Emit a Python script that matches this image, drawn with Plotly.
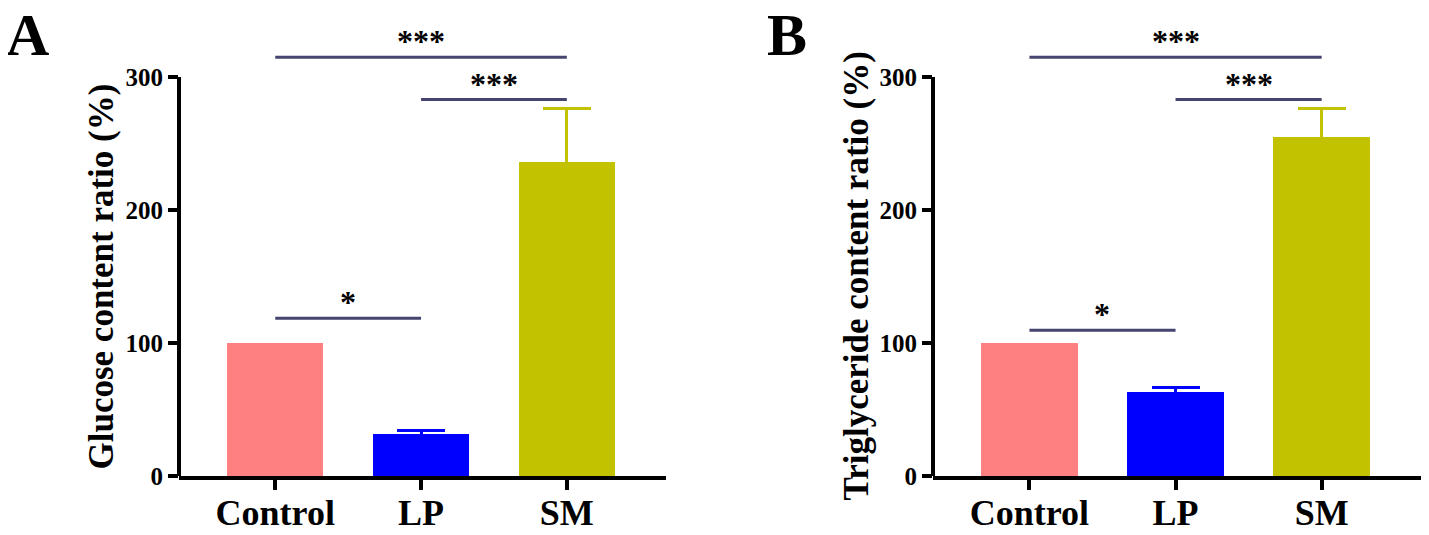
import plotly.graph_objects as go
from plotly.subplots import make_subplots

# Data
groups = ["Control", "LP", "SM"]
colors = ["#FF8080", "#0000FF", "#C2C200"]

glucose = [100, 31.8, 236.3]
glucose_err = [0, 2.3, 40.0]
triglyceride = [100, 63.2, 254.6]
triglyceride_err = [0, 3.5, 21.5]

sig_pairs = [(0, 2), (1, 2), (0, 1)]
sig_labels = ["***", "***", "*"]
glucose_sig_y = [314.8, 283.0, 118.6]
triglyceride_sig_y = [314.8, 283.0, 109.5]

y_ticks = [0, 100, 200, 300]

FONT = "Liberation Serif, Times New Roman, serif"
W, H = 1429, 535
OFF = 8              # page body margin shifts the figure by this many px
PX_PER_UNIT = 1.33
BOTTOM = H - (476 - OFF)

fig = make_subplots(rows=1, cols=2)

panels = [
    dict(vals=glucose, err=glucose_err, sig=glucose_sig_y,
         title="Glucose content ratio (%)", letter="A",
         domain=[(179 - OFF) / W, (666 - OFF) / W],
         title_x=(101 - OFF) / W, letter_x=(4 - OFF) / W),
    dict(vals=triglyceride, err=triglyceride_err, sig=triglyceride_sig_y,
         title="Triglyceride content ratio (%)", letter="B",
         domain=[(933 - OFF) / W, (1421 - OFF) / W],
         title_x=(856 - OFF) / W, letter_x=(765 - OFF) / W),
]

y_top = (H - BOTTOM) / PX_PER_UNIT

for i, p in enumerate(panels):
    col = i + 1
    xs = list(range(len(groups)))
    for j in xs:
        has_err = p["err"][j] > 0
        fig.add_trace(go.Bar(
            x=[j], y=[p["vals"][j]], width=0.66,
            marker=dict(color=colors[j], line=dict(width=0)),
            error_y=dict(type="data", array=[p["err"][j]], visible=has_err,
                         color=colors[j], thickness=3, width=24),
            showlegend=False,
        ), row=1, col=col)

    xa = "x" if col == 1 else "x2"
    ya = "y" if col == 1 else "y2"

    # y axis line only spans 0..300
    fig.add_shape(type="line", xref=f"{xa} domain", yref=ya,
                  x0=0, x1=0, y0=0, y1=300,
                  line=dict(color="black", width=4))

    # significance brackets
    for (a, b), lab, yv in zip(sig_pairs, sig_labels, p["sig"]):
        fig.add_shape(type="line", xref=xa, yref=ya, x0=a, x1=b, y0=yv, y1=yv,
                      line=dict(color="#45456f", width=3))
        fig.add_annotation(x=(a + b) / 2, y=yv, xref=xa, yref=ya, text=lab,
                           showarrow=False, yanchor="middle", yshift=16,
                           font=dict(family=FONT, size=32, color="black", weight="bold"))

    # axis title centred on the 0-300 span
    fig.add_annotation(x=p["title_x"], y=150, xref="paper", yref=ya,
                       text=p["title"], textangle=-90, showarrow=False,
                       xanchor="center", yanchor="middle",
                       font=dict(family=FONT, size=35, color="black", weight="bold"))

    # panel letter
    fig.add_annotation(x=p["letter_x"], y=1.0, xref="paper", yref="paper",
                       text=p["letter"], showarrow=False, xanchor="left", yanchor="top",
                       yshift=8,
                       font=dict(family=FONT, size=60, color="black", weight="bold"))

    fig.update_xaxes(
        domain=p["domain"], range=[-0.66, 2.68], automargin=False,
        tickvals=xs, ticktext=groups,
        showline=True, linecolor="black", linewidth=4,
        ticks="outside", ticklen=10, tickwidth=4, tickcolor="black",
        ticklabelstandoff=-8,
        showgrid=False, zeroline=False,
        tickfont=dict(family=FONT, size=36, color="black", weight="bold"),
        row=1, col=col)
    fig.update_yaxes(
        range=[0, y_top], tickvals=y_ticks, automargin=False,
        showline=False, ticks="outside", ticklen=10, tickwidth=4, tickcolor="black",
        showgrid=False, zeroline=False,
        tickfont=dict(family=FONT, size=25, color="black", weight="bold"),
        row=1, col=col)

fig.update_layout(
    width=W, height=H,
    margin=dict(l=0, r=0, t=0, b=BOTTOM),
    plot_bgcolor="white", paper_bgcolor="white",
    bargap=0,
)

fig.write_html("out.html")
